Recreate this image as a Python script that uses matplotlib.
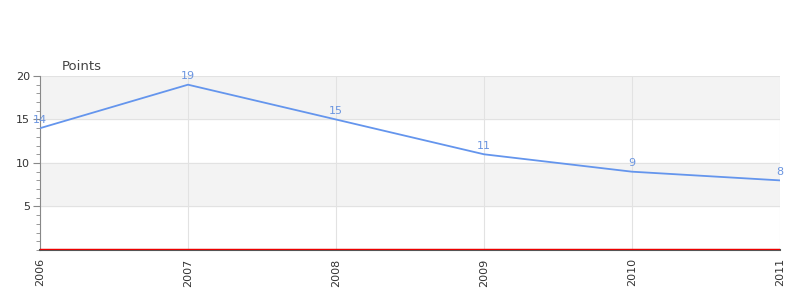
import matplotlib.pyplot as plt
from matplotlib.ticker import MultipleLocator

years = [2006, 2007, 2008, 2009, 2010, 2011]
points = [14, 19, 15, 11, 9, 8]
bands = [(5, 10), (15, 20)]

fig = plt.figure(figsize=(8, 3), dpi=100)
ax = fig.add_axes([0.05, 0.1667, 0.925, 0.58])

for lo, hi in bands:
    ax.axhspan(lo, hi, color='#f3f3f3', zorder=0)

ax.plot(years, points, color='#6495ed', lw=1.3, zorder=3)
ax.axhline(0.15, color='#ee0000', lw=1, zorder=4)

for x, y in zip(years, points):
    ax.annotate(str(y), (x, y), xytext=(0, 2.5), textcoords='offset points',
                ha='center', va='bottom', fontsize=8, color='#6b95e0')

ax.set_xlim(years[0], years[-1])
ax.set_ylim(0, 20)
ax.set_xticks(years)
ax.set_xticklabels([str(y) for y in years], rotation=90)
ax.set_yticks([5, 10, 15, 20])
ax.yaxis.set_minor_locator(MultipleLocator(1))

ax.grid(True, which='major', color='#e2e2e2', lw=0.8, zorder=1)
ax.set_axisbelow(True)

for s in ['top', 'right']:
    ax.spines[s].set_visible(False)
ax.spines['left'].set_color('#888888')
ax.spines['bottom'].set_color('#555555')
ax.spines['bottom'].set_linewidth(1.5)

ax.tick_params(axis='y', which='major', length=5, color='#888888', labelsize=8, labelcolor='#333333', pad=2)
ax.tick_params(axis='y', which='minor', length=3, color='#888888')
ax.tick_params(axis='x', length=0, labelsize=8, labelcolor='#333333', pad=6)

fig.text(62 / 800, 1 - 66 / 300, 'Points', fontsize=9.5, color='#444444', ha='left', va='center')

fig.savefig('out.png', dpi=100)
